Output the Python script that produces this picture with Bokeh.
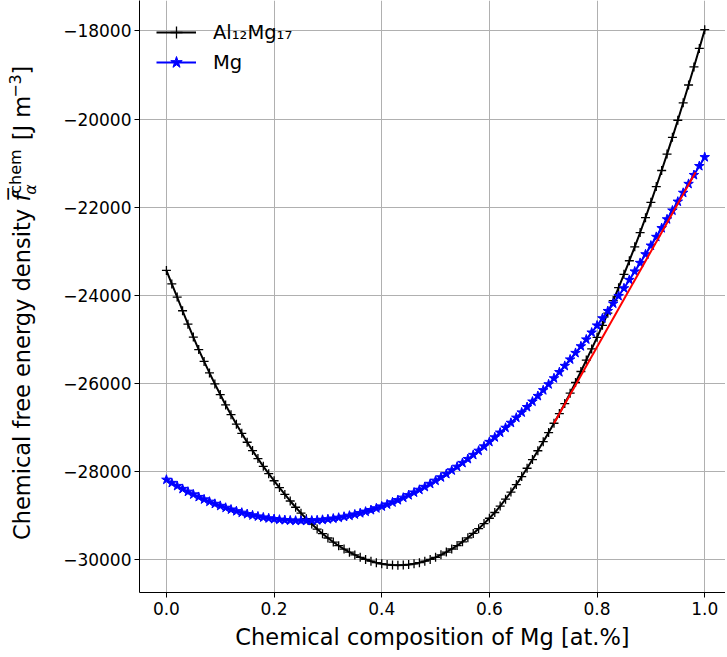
import math
from bokeh.plotting import figure
from bokeh.layouts import row
from bokeh.models import Range1d, FixedTicker, CustomJSTickFormatter
from bokeh.core.properties import value
from bokeh.embed import file_html
from bokeh.resources import INLINE

# ---------------- data ----------------
x_mg = [0.00, 0.01, 0.02, 0.03, 0.04, 0.05, 0.06, 0.07, 0.08, 0.09,
        0.10, 0.11, 0.12, 0.13, 0.14, 0.15, 0.16, 0.17, 0.18, 0.19,
        0.20, 0.21, 0.22, 0.23, 0.24, 0.25, 0.26, 0.27, 0.28, 0.29,
        0.30, 0.31, 0.32, 0.33, 0.34, 0.35, 0.36, 0.37, 0.38, 0.39,
        0.40, 0.41, 0.42, 0.43, 0.44, 0.45, 0.46, 0.47, 0.48, 0.49,
        0.50, 0.51, 0.52, 0.53, 0.54, 0.55, 0.56, 0.57, 0.58, 0.59,
        0.60, 0.61, 0.62, 0.63, 0.64, 0.65, 0.66, 0.67, 0.68, 0.69,
        0.70, 0.71, 0.72, 0.73, 0.74, 0.75, 0.76, 0.77, 0.78, 0.79,
        0.80, 0.81, 0.82, 0.83, 0.84, 0.85, 0.86, 0.87, 0.88, 0.89,
        0.90, 0.91, 0.92, 0.93, 0.94, 0.95, 0.96, 0.97, 0.98, 0.99,
        1.00]

f_al12mg17 = [-23437, -23742, -24041, -24352, -24657, -24949, -25234, -25503, -25764, -26013,
              -26255, -26490, -26712, -26928, -27136, -27338, -27527, -27709, -27884, -28052,
              -28212, -28366, -28522, -28671, -28813, -28947, -29075, -29195, -29308, -29414,
              -29512, -29603, -29687, -29764, -29833, -29896, -29950, -29998, -30038, -30071,
              -30097, -30115, -30126, -30130, -30126, -30115, -30097, -30071, -30038, -29997,
              -29950, -29894, -29832, -29761, -29684, -29599, -29507, -29407, -29300, -29185,
              -29063, -28933, -28786, -28631, -28469, -28299, -28117, -27928, -27730, -27531,
              -27324, -27119, -26906, -26687, -26459, -26224, -25981, -25731, -25473, -25218,
              -24955, -24684, -24406, -24120, -23827, -23526, -23217, -22900, -22576, -22239,
              -21890, -21532, -21168, -20795, -20415, -20027, -19631, -19227, -18816, -18397,
              -17970]

f_mg = [-28188, -28261, -28330, -28397, -28461, -28522, -28580, -28635, -28687, -28736,
        -28782, -28825, -28865, -28903, -28937, -28968, -28997, -29022, -29045, -29064,
        -29081, -29095, -29105, -29113, -29118, -29120, -29119, -29115, -29108, -29098,
        -29085, -29070, -29051, -29029, -29005, -28977, -28947, -28913, -28877, -28837,
        -28795, -28750, -28702, -28651, -28596, -28539, -28479, -28417, -28351, -28282,
        -28210, -28135, -28058, -27977, -27894, -27807, -27718, -27625, -27530, -27432,
        -27330, -27226, -27119, -27009, -26896, -26780, -26661, -26539, -26414, -26287,
        -26156, -26022, -25886, -25746, -25604, -25458, -25310, -25159, -25004, -24847,
        -24687, -24524, -24358, -24189, -24017, -23842, -23652, -23460, -23266, -23070,
        -22873, -22675, -22476, -22276, -22076, -21875, -21674, -21472, -21270, -21067,
        -20865]

tangent_x = [0.720, 0.983]
tangent_y = [-26906, -21210]

x_ticks = [0.0, 0.2, 0.4, 0.6, 0.8, 1.0]
y_ticks = [-30000, -28000, -26000, -24000, -22000, -20000, -18000]

label_al12mg17 = "Al\u2081\u2082Mg\u2081\u2087"
label_mg = "Mg"
x_title = "Chemical composition of Mg [at.%]"

# ---------------- layout ----------------
FONT = "DejaVu Sans"
TOTAL_W, H = 725, 655
LW = 60                      # width of the strip holding the y title
W = TOTAL_W - LW
FRAME_LEFT = 139
B_BOTTOM = 63
FRAME_H = H - B_BOTTOM       # row() aligns the strip's frame to this height
X0, X1 = -0.05, 1.0386
Y0, Y1 = -30749, -17308

p = figure(width=W, height=H, output_backend="svg", toolbar_location=None,
           x_range=Range1d(X0, X1), y_range=Range1d(Y0, Y1),
           min_border_left=FRAME_LEFT - LW, min_border_right=0, min_border_top=0,
           min_border_bottom=B_BOTTOM)
p.outline_line_color = None
p.background_fill_color = "white"
p.border_fill_color = "white"

for ax in (p.xaxis[0], p.yaxis[0]):
    ax.major_tick_out = 5
    ax.major_tick_in = 0
    ax.minor_tick_out = 0
    ax.minor_tick_in = 0
    ax.major_tick_line_color = "black"
    ax.axis_line_color = "black"
    ax.axis_line_width = 1
    ax.major_label_text_font = FONT
    ax.major_label_text_font_size = "17px"
    ax.major_label_text_color = "black"
    ax.major_label_standoff = 3
p.xaxis.major_label_standoff = 4

p.xaxis.ticker = FixedTicker(ticks=x_ticks)
p.yaxis.ticker = FixedTicker(ticks=y_ticks)
p.xaxis.formatter = CustomJSTickFormatter(code="return tick.toFixed(1);")
p.yaxis.formatter = CustomJSTickFormatter(
    code="return (tick < 0 ? '\u2212' : '') + Math.abs(tick).toFixed(0);")

p.xaxis.axis_label = x_title
p.xaxis.axis_label_text_font = FONT
p.xaxis.axis_label_text_font_size = "22.5px"
p.xaxis.axis_label_text_font_style = "normal"
p.xaxis.axis_label_text_color = "black"
p.xaxis.axis_label_standoff = 6

p.grid.grid_line_color = "#b0b0b0"
p.grid.grid_line_width = 1

# ---------------- series ----------------
p.line(x_mg, f_al12mg17, line_color="black", line_width=2, legend_label=label_al12mg17)
p.scatter(x_mg, f_al12mg17, marker="cross", size=9, line_color="black",
          line_width=1.3, legend_label=label_al12mg17)
p.line(x_mg, f_mg, line_color="#0000ff", line_width=2, legend_label=label_mg)
p.scatter(x_mg, f_mg, marker="star", size=10, fill_color="#0000ff",
          line_color="#0000ff", line_width=1, legend_label=label_mg)
p.line(tangent_x, tangent_y, line_color="#ff0000", line_width=2)

leg = p.legend[0]
leg.location = "top_left"
leg.border_line_color = None
leg.background_fill_alpha = 0
leg.label_text_font = FONT
leg.label_text_font_size = "19.5px"
leg.label_text_color = "black"
leg.glyph_width = 40
leg.glyph_height = 30
leg.label_height = 30
leg.label_standoff = 17
leg.spacing = 0
leg.margin = 17
leg.padding = 0

# ---------------- y title strip (mixed-size text) ----------------
yl = figure(width=LW, height=H, output_backend="svg", toolbar_location=None,
            x_range=Range1d(0, LW), y_range=Range1d(0, FRAME_H),
            min_border_left=0, min_border_right=0, min_border_top=0,
            min_border_bottom=0, x_axis_location=None, y_axis_location=None)
yl.outline_line_color = None
yl.grid.visible = False
yl.background_fill_color = "white"
yl.border_fill_color = "white"

MAIN, SMALL = 22.5, 16.0
CX_MAIN = 21.0     # centre line of the normal-size text
CX_SUP = 14.5      # centre line of superscripts
CX_SUB = 29.5      # centre line of subscripts

def vtext(text, cy, cx, size, style="normal"):
    yl.text(x=[cx], y=[FRAME_H - cy], text=[text], angle=math.pi / 2,
            text_align="center", text_baseline="middle",
            text_font=value(FONT), text_font_size=value(f"{size}px"),
            text_font_style=value(style), text_color="black")

vtext("Chemical free energy density", 374, CX_MAIN, MAIN)
vtext("f\u0305", 197, CX_MAIN, MAIN, "italic")
vtext("chem", 171, CX_SUP, SMALL)
vtext("\u03b1", 189, CX_SUB, SMALL, "italic")
vtext("[J m", 117.5, CX_MAIN, MAIN)
vtext("\u22123", 85.5, CX_SUP, SMALL)
vtext("]", 69.5, CX_MAIN, MAIN)

layout = row(yl, p, spacing=0)
open("out.html", "w").write(file_html(layout, INLINE))
